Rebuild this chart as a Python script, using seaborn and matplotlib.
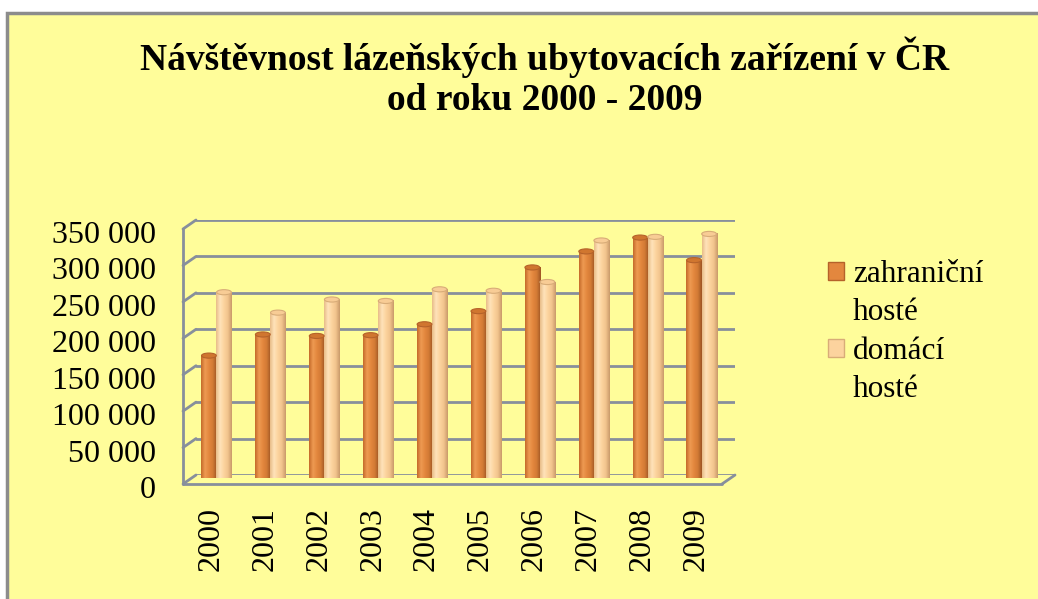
import matplotlib
matplotlib.use("Agg")
import matplotlib.pyplot as plt
import seaborn as sns
import pandas as pd
import numpy as np
from matplotlib.patches import Rectangle, Patch, Ellipse
from matplotlib.lines import Line2D
from matplotlib.colors import LinearSegmentedColormap
from matplotlib.transforms import ScaledTranslation, IdentityTransform

# ---- data ----
years = ["2000", "2001", "2002", "2003", "2004", "2005", "2006", "2007", "2008", "2009"]
zahranicni = [168000, 197000, 195000, 196000, 211000, 229000, 289000, 311000, 330000, 299000]
domaci = [255000, 227000, 245000, 243000, 259000, 257000, 269000, 326000, 331000, 335000]
series_names = ["zahraniční hosté", "domácí hosté"]
legend_labels = ["zahraniční", "hosté", "domácí", "hosté"]
yticks = [0, 50000, 100000, 150000, 200000, 250000, 300000, 350000]
title = "Návštěvnost lázeňských ubytovacích zařízení v ČR\nod roku 2000 - 2009"

colors = ["#E3873E", "#FCD39E"]
edge_colors = ["#B5622A", "#D8AC78"]
shade = [["#C46A2A", "#EE9A52", "#E3873E", "#D27A35", "#9E5524"],
         ["#E8BC88", "#FFE3BA", "#FCD39E", "#F2C48D", "#C99A6A"]]
cap_colors = ["#D0762F", "#F8CC95"]
grid_color = "#878F9C"
bg_yellow = "#FFFD9A"

sns.set_style("white")
plt.rcParams["font.family"] = ["Liberation Serif", "DejaVu Serif"]
plt.rcParams["text.color"] = "black"
plt.rcParams["xtick.color"] = "black"
plt.rcParams["ytick.color"] = "black"

df = pd.DataFrame({
    "rok": years * 2,
    "hodnota": zahranicni + domaci,
    "serie": [series_names[0]] * len(years) + [series_names[1]] * len(years),
})

W, H = 1038, 599
fig = plt.figure(figsize=(W / 100, H / 100), dpi=100)
fig.patch.set_facecolor("white")
fig.patches.append(Rectangle((7 / W, -0.02), 1.05, (H - 13) / H + 0.02,
                             transform=fig.transFigure, facecolor=bg_yellow,
                             edgecolor="#8C8C8C", linewidth=2.5, zorder=-10))

# axes = back wall of the pseudo-3D chart
ax = fig.add_axes([196 / W, (H - 475) / H, 539 / W, 255 / H])
ax.set_facecolor("none")

sns.barplot(data=df, x="rok", y="hodnota", hue="serie", hue_order=series_names,
            palette=colors, width=0.56, ax=ax, legend=False, saturation=1, gap=0)

ax.set_xlim(-0.5, len(years) - 0.5)
ax.set_ylim(0, 350000)
ax.set_yticks(yticks)
ax.set_yticklabels([f"{v:,}".replace(",", " ") for v in yticks])
ax.set_xlabel("")
ax.set_ylabel("")
for s in ax.spines.values():
    s.set_visible(False)
ax.yaxis.grid(True, color=grid_color, linewidth=2)
ax.set_axisbelow(True)
ax.tick_params(axis="both", length=0, labelsize=23, labelcolor="black")
ax.tick_params(axis="y", pad=29)
ax.tick_params(axis="x", pad=23, rotation=90)

dpi_tr = fig.dpi_scale_trans
for lbl in ax.get_yticklabels():
    lbl.set_transform(lbl.get_transform() + ScaledTranslation(0, -0.12, dpi_tr))
for lbl in ax.get_xticklabels():
    lbl.set_transform(lbl.get_transform() + ScaledTranslation(-0.12, 0, dpi_tr))

# bars sit mid-depth: shift slightly toward the viewer; cylinder shading
shift = ScaledTranslation(-0.065, -0.03, dpi_tr)
bar_tr = ax.transData + shift
bars = list(ax.patches)
grad = np.linspace(0, 1, 64).reshape(1, -1)
cmaps = [LinearSegmentedColormap.from_list("s%d" % k, shade[k]) for k in range(2)]
for i, p in enumerate(bars):
    k = 0 if i < len(years) else 1
    p.set_transform(bar_tr)
    p.set_clip_on(False)
    p.set_edgecolor("none")
    x0, y0 = p.get_x(), p.get_y()
    w, h = p.get_width(), p.get_height()
    im = ax.imshow(grad, cmap=cmaps[k], aspect="auto",
                   extent=(x0, x0 + w, y0, y0 + h), interpolation="bilinear",
                   zorder=p.get_zorder() + 0.01)
    im.set_transform(bar_tr)
    im.set_clip_on(False)
    cap = Ellipse((x0 + w / 2, y0 + h), w * 0.98, 7000, transform=bar_tr,
                  facecolor=cap_colors[k], edgecolor=edge_colors[k], lw=0.8,
                  zorder=p.get_zorder() + 0.02, clip_on=False)
    ax.add_patch(cap)
ax.set_xlim(-0.5, len(years) - 0.5)
ax.set_ylim(0, 350000)

# side wall / floor lines
fig.canvas.draw()
dx, dy = -13, -9
td = ax.transData
xl, xr = ax.get_xlim()
def back(x, y):
    return td.transform((x, y))
idt = IdentityTransform()
for v in yticks:
    b = back(xl, v)
    fig.add_artist(Line2D([b[0], b[0] + dx], [b[1], b[1] + dy], color=grid_color,
                          lw=2, transform=idt))
b0 = back(xl, 0); b1 = back(xl, 350000)
fig.add_artist(Line2D([b0[0] + dx, b1[0] + dx], [b0[1] + dy, b1[1] + dy],
                      color=grid_color, lw=2, transform=idt))
r0 = back(xr, 0)
fig.add_artist(Line2D([b0[0] + dx, r0[0] + dx], [b0[1] + dy, r0[1] + dy],
                      color=grid_color, lw=2, transform=idt))
fig.add_artist(Line2D([r0[0], r0[0] + dx], [r0[1], r0[1] + dy],
                      color=grid_color, lw=2, transform=idt))

# title
fig.text(545 / W, (H - 37) / H, title, ha="center", va="top", fontsize=27,
         fontweight="bold", linespacing=1.15, color="black")

# legend
handles = [Patch(facecolor=colors[0], edgecolor=edge_colors[0]),
           Patch(facecolor="none", edgecolor="none"),
           Patch(facecolor=colors[1], edgecolor=edge_colors[1]),
           Patch(facecolor="none", edgecolor="none")]
fig.legend(handles, legend_labels, loc="upper left",
           bbox_to_anchor=(828 / W, (H - 260) / H), frameon=False, fontsize=22.5,
           handlelength=0.5, handleheight=0.5, handletextpad=0.3,
           labelspacing=0.3, borderpad=0, borderaxespad=0, labelcolor="black")

fig.savefig("out.png", dpi=100)
